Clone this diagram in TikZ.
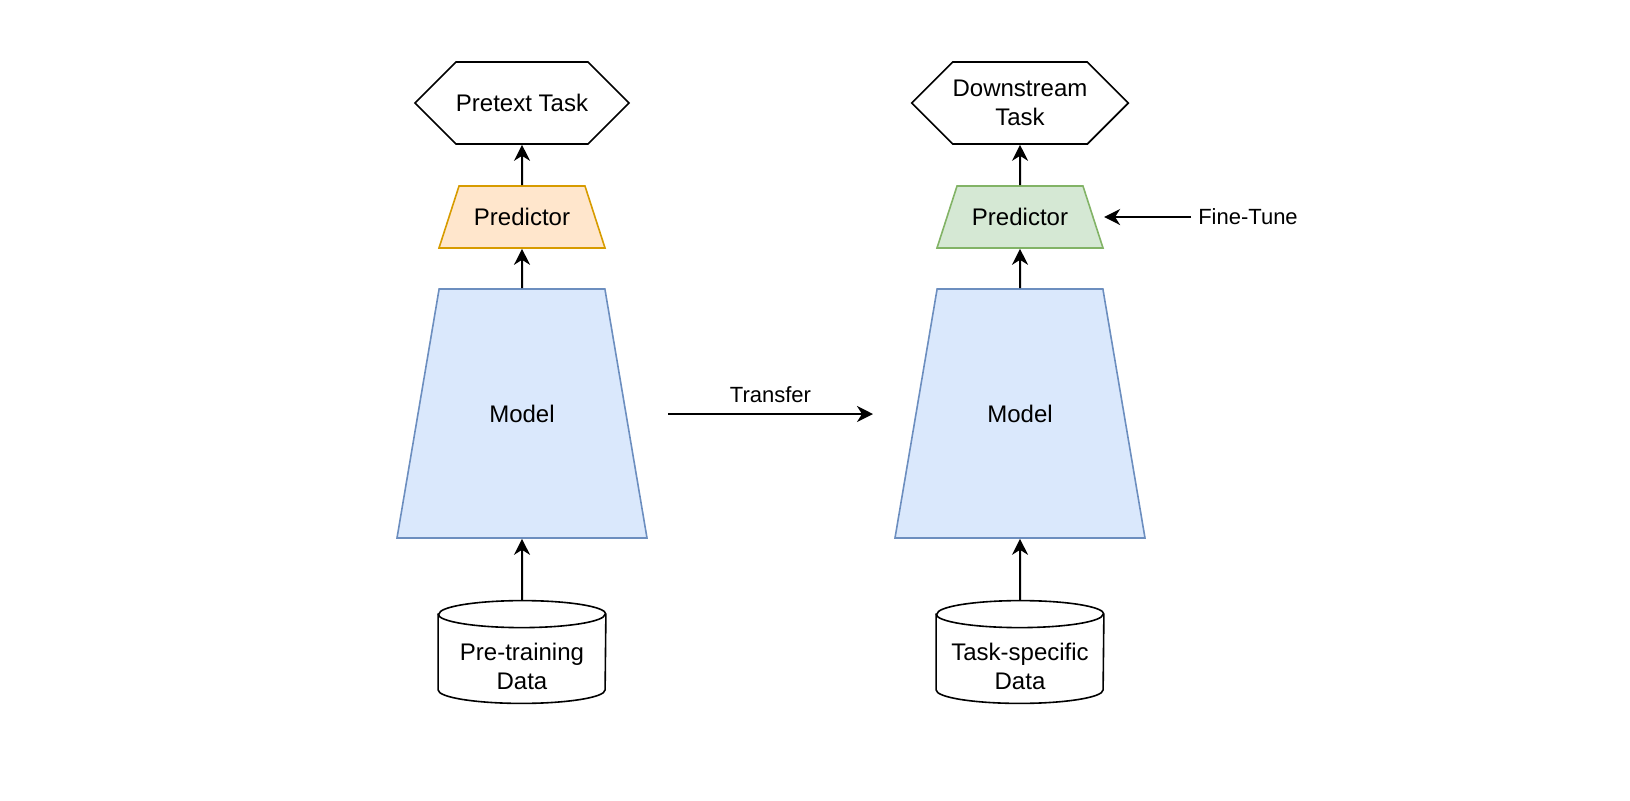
\documentclass[tikz,border=0pt]{standalone}
\usepackage{fontspec}
\setmainfont{Liberation Sans}
\usetikzlibrary{shapes.geometric,shapes.symbols,arrows.meta,positioning}
\begin{document}
\begin{tikzpicture}[x=0.5pt,y=-0.5pt]
  % Colors
  \definecolor{orangefill}{HTML}{FFE6CC}
  \definecolor{orangeline}{HTML}{D79B00}
  \definecolor{greenfill}{HTML}{D5E8D4}
  \definecolor{greenline}{HTML}{82B366}
  \definecolor{bluefill}{HTML}{DAE8FC}
  \definecolor{blueline}{HTML}{6C8EBF}

  % Styles
  \tikzset{
    box/.style={font=\fontsize{12}{14.5}\selectfont, align=center, line width=0.8pt, inner sep=0pt},
    task/.style={box, draw, shape=signal, signal to=east and west, signal pointer angle=90,
      minimum width=104.5pt, minimum height=41pt},
    slanted/.style={font=\fontsize{12}{14.5}\selectfont, line width=0.8pt, inner xsep=0pt,
      trapezium, trapezium stretches body=true, text height=8.6pt, text depth=0pt},
    predictor/.style={slanted, trapezium angle=72.1, inner ysep=11.2pt, minimum width=83pt},
    model/.style={slanted, trapezium angle=80.4, inner ysep=57.95pt, minimum width=125pt,
      draw=blueline, fill=bluefill},
    datastore/.style={inner sep=0pt, minimum width=83.5pt, minimum height=51pt},
    drum/.style={line width=0.8pt, x radius=41.75pt, y radius=6.75pt},
    arrow/.style={-{Stealth[length=8pt,width=8pt,inset=2.5pt]}, line width=1pt},
    note/.style={font=\fontsize{11}{13}\selectfont}
  }

  \useasboundingbox (0,0) rectangle (1630,800);

  % Pre-training side
  \node[task] (ltask) at (522,103) {Pretext Task};
  \node[predictor, draw=orangeline, fill=orangefill] (lpred) at (522,217) {Predictor};
  \node[model] (lmodel) at (522,413.5) {Model};
  \node[datastore] (ldata) at (522,652) {};
  \node[box] (ldatatext) at (522,666) {Pre-training\\Data};

  % Downstream side
  \node[task] (rtask) at (1020,103) {Downstream\\Task};
  \node[predictor, draw=greenline, fill=greenfill] (rpred) at (1020,217) {Predictor};
  \node[model] (rmodel) at (1020,413.5) {Model};
  \node[datastore] (rdata) at (1020,652) {};
  \node[box] (rdatatext) at (1020,666) {Task-specific\\Data};

  \node[note] (tune) at (1248,217) {Fine-Tune};
  \coordinate (tfrom) at (668,414);
  \coordinate (tto) at (873,414);

  % Cylinders
  \foreach \db in {ldata, rdata} {
    \draw[drum] ([yshift=-6.75pt]\db.north west) -- ([yshift=6.75pt]\db.south west)
      arc[start angle=180, end angle=360] -- ([yshift=-6.75pt]\db.north east)
      arc[start angle=0, end angle=180] -- cycle;
    \draw[drum] ([yshift=-6.75pt]\db.north west) arc[start angle=180, end angle=360];
  }

  % Connectors
  \draw[arrow] (ldata) -- (lmodel.south);
  \draw[arrow] (lmodel.north) -- (lpred.south);
  \draw[arrow] (lpred.north) -- (ltask);
  \draw[arrow] (rdata) -- (rmodel.south);
  \draw[arrow] (rmodel.north) -- (rpred.south);
  \draw[arrow] (rpred.north) -- (rtask);
  \draw[arrow] (tune.west) -- (rpred.bottom right corner |- tune.west);
  \draw[arrow] (tfrom) -- node[note, above=2pt] {Transfer} (tto);
\end{tikzpicture}
\end{document}
